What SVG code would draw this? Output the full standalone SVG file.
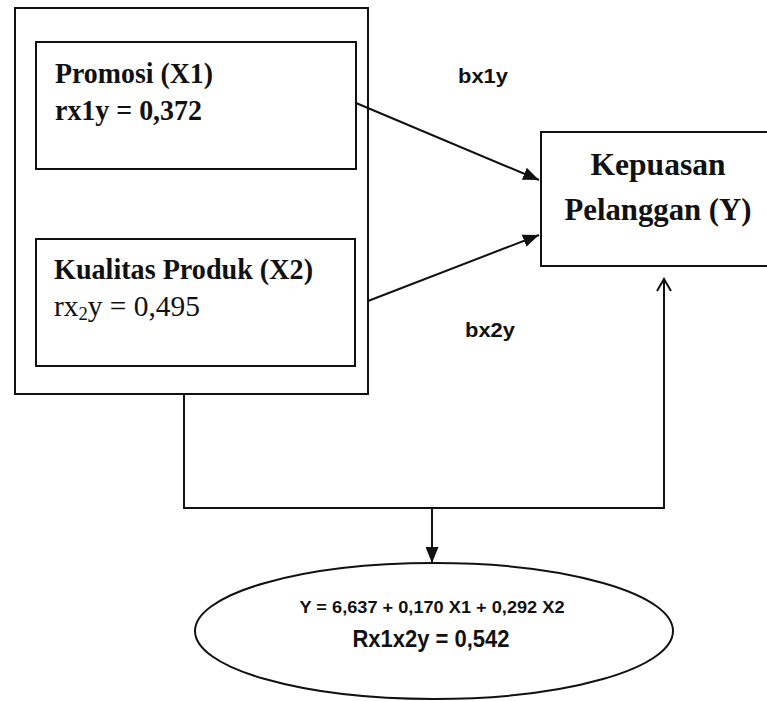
<svg xmlns="http://www.w3.org/2000/svg" width="767" height="701" viewBox="0 0 767 701">
<style>
.box{fill:none;stroke:#111;stroke-width:2}
.ser{font-family:"Liberation Serif","Times New Roman",serif;font-weight:bold;fill:#111}
.sans{font-family:"Liberation Sans",Arial,sans-serif;font-weight:bold;fill:#111}
.con{fill:none;stroke:#111;stroke-width:2}
</style>
<defs>
<marker id="fill" markerUnits="userSpaceOnUse" markerWidth="17" markerHeight="13" refX="16" refY="6.5" orient="auto">
<path d="M0,0 L16,6.5 L0,13 z" fill="#111"/>
</marker>
<marker id="open" markerUnits="userSpaceOnUse" markerWidth="16" markerHeight="16" refX="13" refY="8" orient="auto">
<path d="M1,1 L13,8 L1,15" fill="none" stroke="#111" stroke-width="2"/>
</marker>
</defs>
<rect width="767" height="701" fill="#fff"/>
<g id="outer">
<rect class="box" x="15" y="8" width="353" height="386"/>
</g>
<g id="promosi">
<rect class="box" x="36" y="42" width="320" height="127"/>
<text class="ser" x="55" y="83" font-size="30" textLength="158" lengthAdjust="spacingAndGlyphs">Promosi (X1)</text>
<text class="ser" x="55" y="120" font-size="30" textLength="147" lengthAdjust="spacingAndGlyphs">rx1y = 0,372</text>
</g>
<g id="kualitas">
<rect class="box" x="36" y="239" width="319" height="127"/>
<text class="ser" x="54" y="279" font-size="30" textLength="259" lengthAdjust="spacingAndGlyphs">Kualitas Produk (X2)</text>
<text class="ser" x="54" y="316" font-size="30" style="font-weight:normal" textLength="146" lengthAdjust="spacingAndGlyphs">rx<tspan font-size="19" dy="4">2</tspan><tspan dy="-4">y = 0,495</tspan></text>
</g>
<g id="kepuasan">
<rect class="box" x="541" y="132" width="240" height="134"/>
<text class="ser" x="658" y="175" font-size="32" text-anchor="middle" textLength="135" lengthAdjust="spacingAndGlyphs">Kepuasan</text>
<text class="ser" x="658" y="220" font-size="32" text-anchor="middle" textLength="187" lengthAdjust="spacingAndGlyphs">Pelanggan (Y)</text>
</g>
<g id="regresi">
<ellipse class="box" cx="434" cy="631" rx="239" ry="68"/>
<text class="sans" x="432" y="613" font-size="16" text-anchor="middle" textLength="265" lengthAdjust="spacingAndGlyphs">Y = 6,637 + 0,170 X1 + 0,292 X2</text>
<text class="sans" x="431" y="647" font-size="24" text-anchor="middle" textLength="157" lengthAdjust="spacingAndGlyphs">Rx1x2y = 0,542</text>
</g>
<g id="connectors">
<path class="con" d="M356,103 L539,180" marker-end="url(#fill)"/>
<path class="con" d="M368,301 L539,235" marker-end="url(#fill)"/>
<path class="con" d="M184,394 L184,508 L664,508 L664,279" marker-end="url(#open)"/>
<path class="con" d="M432,508 L432,563" marker-end="url(#fill)"/>
<text class="sans" x="458" y="83" font-size="21" textLength="50" lengthAdjust="spacingAndGlyphs">bx1y</text>
<text class="sans" x="465" y="337" font-size="21" textLength="50" lengthAdjust="spacingAndGlyphs">bx2y</text>
</g>
</svg>
